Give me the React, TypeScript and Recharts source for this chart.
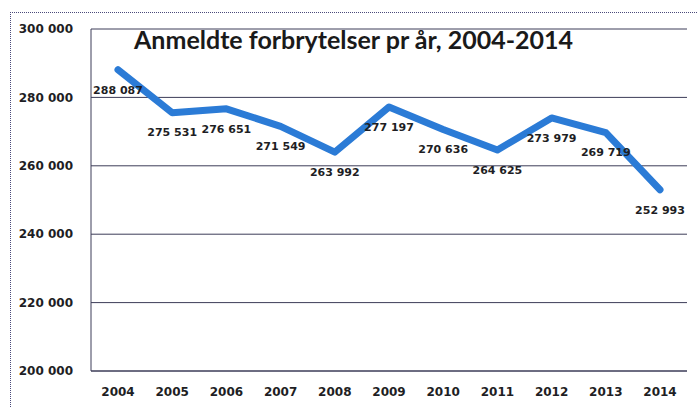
import { LineChart, Line, XAxis, YAxis, CartesianGrid, LabelList } from 'recharts'

const years = ['2004', '2005', '2006', '2007', '2008', '2009', '2010', '2011', '2012', '2013', '2014']
const reported = [288087, 275531, 276651, 271549, 263992, 277197, 270636, 264625, 273979, 269719, 252993]
const yTicks = [200000, 220000, 240000, 260000, 280000, 300000]

const data = years.map((year, i) => ({ year, value: reported[i] }))

// "288 087" style, space as thousands separator
function fmt(v: number) {
  return String(v).replace(/\B(?=(\d{3})+(?!\d))/g, ' ')
}

const textColor = '#1e1e24'
const font = '"DejaVu Sans", sans-serif'

export default function App() {
  return (
    <div style={{ position: 'absolute', left: 0, top: 0, width: 698, height: 407, background: '#fff', overflow: 'hidden' }}>
      {/* dotted outer frame of the scanned chart */}
      <div
        style={{
          position: 'absolute',
          left: 10,
          top: 12,
          width: 700,
          height: 420,
          borderLeft: '1.5px dotted #4a4a7a',
          borderTop: '1.5px dotted #4a4a7a'
        }}
      />
      <div
        style={{
          position: 'absolute',
          left: 134,
          top: 24,
          fontFamily: 'Lato, "Open Sans", sans-serif',
          fontWeight: 700,
          fontSize: 25,
          color: '#1a1a1a',
          whiteSpace: 'nowrap',
          zIndex: 2
        }}
      >
        Anmeldte forbrytelser pr år, 2004-2014
      </div>
      <LineChart
        width={698}
        height={407}
        data={data}
        margin={{ top: 29, right: 11, left: 0, bottom: 6 }}
        style={{ position: 'absolute', left: 0, top: 0 }}
      >
        <CartesianGrid vertical={false} stroke="#3c3c58" strokeWidth={1} />
        <XAxis
          dataKey="year"
          height={30}
          padding={{ left: 27, right: 27 }}
          axisLine={{ stroke: '#3c3c58' }}
          tickLine={false}
          tickSize={0}
          tickMargin={16}
          tick={{ fill: textColor, fontSize: 12, fontWeight: 700, fontFamily: font }}
        />
        <YAxis
          width={91}
          domain={[200000, 300000]}
          ticks={yTicks}
          interval={0}
          axisLine={{ stroke: '#3c3c58' }}
          tickLine={false}
          tickSize={0}
          tickMargin={18}
          tickFormatter={fmt}
          tick={{ fill: textColor, fontSize: 12, fontWeight: 700, fontFamily: font }}
        />
        <Line
          type="linear"
          dataKey="value"
          stroke="#2b7bd6"
          strokeWidth={7}
          strokeLinejoin="round"
          strokeLinecap="round"
          dot={false}
          isAnimationActive={false}
        >
          <LabelList
            dataKey="value"
            position="bottom"
            offset={16}
            formatter={(v: any) => fmt(Number(v))}
            style={{ fill: textColor, fontSize: 11, fontWeight: 700, fontFamily: font }}
          />
        </Line>
      </LineChart>
    </div>
  )
}
